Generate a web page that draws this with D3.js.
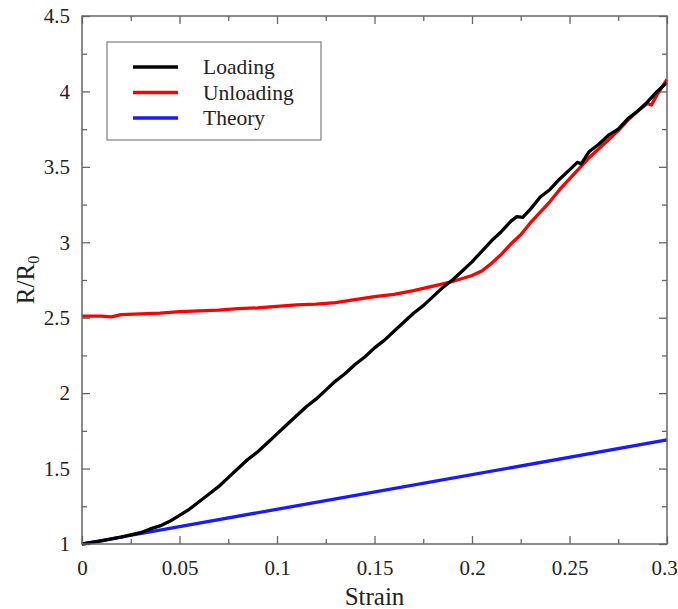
<!doctype html>
<html>
<head>
<meta charset="utf-8">
<script src="https://d3js.org/d3.v7.min.js"></script>
<style>
  body {margin:0; background:#fff;}
  .frame {fill:none; stroke:#666; stroke-width:1.5;}
  .axis path {display:none;}
  .axis line {stroke:#666; stroke-width:1.3;}
  .curve {fill:none; stroke-width:3.3; stroke-linejoin:round;}
</style>
</head>
<body>
<svg width="678" height="609"></svg>
<script>
// strain values and measured R/R0
const loadStrain = [0,0.01,0.02,0.025,0.03,0.035,0.04,0.045,0.05,0.055,0.06,0.065,0.07,0.075,0.08,0.085,0.09,0.095,0.1,0.105,0.11,0.115,0.12,0.125,0.13,0.135,0.14,0.145,0.15,0.155,0.16,0.165,0.17,0.175,0.18,0.185,0.19,0.195,0.2,0.205,0.21,0.215,0.22,0.223,0.226,0.23,0.235,0.24,0.245,0.25,0.254,0.256,0.26,0.265,0.27,0.275,0.28,0.285,0.29,0.295,0.3];
const loadR = [1.00,1.02,1.045,1.06,1.075,1.10,1.12,1.15,1.19,1.23,1.28,1.33,1.38,1.44,1.50,1.56,1.61,1.67,1.73,1.79,1.85,1.91,1.96,2.02,2.08,2.13,2.19,2.24,2.30,2.35,2.41,2.47,2.53,2.58,2.64,2.70,2.75,2.81,2.87,2.94,3.01,3.07,3.14,3.17,3.165,3.22,3.30,3.35,3.42,3.48,3.53,3.52,3.60,3.65,3.71,3.75,3.82,3.87,3.93,4.00,4.06];

const unloadStrain = [0,0.01,0.015,0.02,0.03,0.04,0.05,0.06,0.07,0.08,0.09,0.1,0.11,0.12,0.13,0.14,0.15,0.16,0.17,0.18,0.19,0.2,0.205,0.21,0.215,0.22,0.225,0.23,0.235,0.24,0.245,0.25,0.255,0.26,0.265,0.27,0.275,0.28,0.285,0.29,0.292,0.295,0.3];
const unloadR = [2.51,2.51,2.505,2.52,2.525,2.53,2.54,2.545,2.55,2.56,2.565,2.575,2.585,2.59,2.60,2.62,2.64,2.655,2.68,2.71,2.74,2.78,2.81,2.86,2.92,2.99,3.05,3.13,3.20,3.27,3.35,3.42,3.49,3.56,3.62,3.68,3.74,3.81,3.87,3.92,3.91,3.98,4.08];

const theoryStrain = [0, 0.3];
const theoryR = [1, 1.69];

const xTicks = [0,0.05,0.1,0.15,0.2,0.25,0.3];
const yTicks = [1,1.5,2,2.5,3,3.5,4,4.5];

const series = [
  {name:"Loading",   xs:loadStrain,   ys:loadR,   color:"#000"},
  {name:"Unloading", xs:unloadStrain, ys:unloadR, color:"#ff0000"},
  {name:"Theory",    xs:theoryStrain, ys:theoryR, color:"#1a1aff"}
];

const L = 82, R = 667, T = 16, B = 544;
const svg = d3.select("svg");
const x = d3.scaleLinear().domain([0,0.3]).range([L,R]);
const y = d3.scaleLinear().domain([1,4.5]).range([B,T]);

const fmt = d => String(+d.toFixed(2));
const minorX = d3.range(0.025,0.3,0.05);
const minorY = d3.range(1.25,4.5,0.5);

// major + minor ticks, all four sides, pointing inwards
const xAx = svg.append("g").attr("class","axis").attr("transform",`translate(0,${B})`)
  .call(d3.axisBottom(x).tickValues(xTicks).tickSizeInner(-8).tickSizeOuter(0).tickPadding(16).tickFormat(fmt));
xAx.selectAll(".tick:last-of-type text").attr("dx",-3);
svg.append("g").attr("class","axis").attr("transform",`translate(0,${B})`)
  .call(d3.axisBottom(x).tickValues(minorX).tickSize(-5).tickFormat(""));
svg.append("g").attr("class","axis").attr("transform",`translate(0,${T})`)
  .call(d3.axisTop(x).tickValues(xTicks).tickSize(-8).tickFormat(""));
svg.append("g").attr("class","axis").attr("transform",`translate(0,${T})`)
  .call(d3.axisTop(x).tickValues(minorX).tickSize(-5).tickFormat(""));
svg.append("g").attr("class","axis").attr("transform",`translate(${L},0)`)
  .call(d3.axisLeft(y).tickValues(yTicks).tickSizeInner(-8).tickSizeOuter(0).tickPadding(12).tickFormat(fmt));
svg.append("g").attr("class","axis").attr("transform",`translate(${L},0)`)
  .call(d3.axisLeft(y).tickValues(minorY).tickSize(-5).tickFormat(""));
svg.append("g").attr("class","axis").attr("transform",`translate(${R},0)`)
  .call(d3.axisRight(y).tickValues(yTicks).tickSize(-8).tickFormat(""));
svg.append("g").attr("class","axis").attr("transform",`translate(${R},0)`)
  .call(d3.axisRight(y).tickValues(minorY).tickSize(-5).tickFormat(""));
svg.selectAll(".axis").attr("font-family",null).attr("font-size",21);

const line = d3.line().x(d => x(d[0])).y(d => y(d[1]));
svg.append("g").selectAll("path").data(series.slice().reverse()).join("path")
  .attr("class","curve")
  .attr("stroke", d => d.color)
  .attr("d", d => line(d.xs.map((v,i) => [v, d.ys[i]])));

svg.append("rect").attr("class","frame")
  .attr("x",L).attr("y",T).attr("width",R-L).attr("height",B-T);

// legend
const lg = svg.append("g");
lg.append("rect").attr("x",107).attr("y",42).attr("width",214).attr("height",98)
  .attr("fill","#fff").attr("stroke","#888").attr("stroke-width",1.3);
series.forEach((s,i) => {
  const yy = 67 + i*25.5;
  lg.append("line").attr("x1",133).attr("x2",178).attr("y1",yy).attr("y2",yy)
    .attr("stroke",s.color).attr("stroke-width",3.3);
  lg.append("text").attr("x",203).attr("y",yy+7).attr("font-size",21.5).text(s.name);
});

// axis titles
svg.append("text").attr("x",(L+R)/2).attr("y",605).attr("text-anchor","middle")
  .attr("font-size",25).text("Strain");
const yl = svg.append("text").attr("transform","translate(34,280) rotate(-90)")
  .attr("text-anchor","middle").attr("font-size",25);
yl.append("tspan").text("R/R");
yl.append("tspan").attr("font-size",16).attr("dy",5).text("0");

svg.selectAll("text").style("font-family","Liberation Serif").attr("fill","#222");
</script>
</body>
</html>
